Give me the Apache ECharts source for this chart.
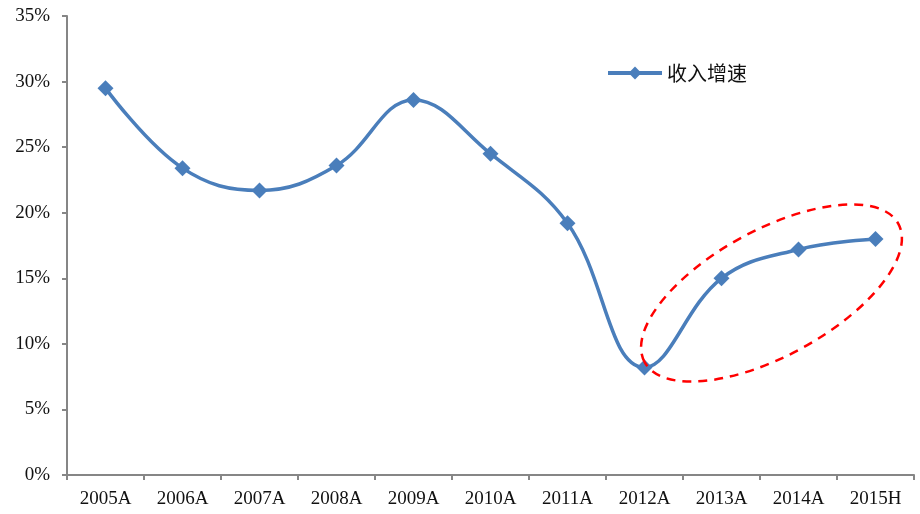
<!DOCTYPE html>
<html>
<head>
<meta charset="utf-8">
<script src="https://cdn.jsdelivr.net/npm/echarts@6/dist/echarts.min.js"></script>
<style>
  html, body { margin: 0; padding: 0; background: #fff; }
  #chart { width: 920px; height: 514px; }
</style>
</head>
<body>
<div id="chart"></div>
<script>
// Revenue growth by year
const categories = ['2005A', '2006A', '2007A', '2008A', '2009A', '2010A', '2011A', '2012A', '2013A', '2014A', '2015H'];
const growth = [29.5, 23.4, 21.7, 23.6, 28.6, 24.5, 19.2, 8.2, 15.0, 17.2, 18.0];
const seriesName = '收入增速';
const yTicks = [0, 5, 10, 15, 20, 25, 30, 35];

const chart = echarts.init(document.getElementById('chart'));
const axisGray = '#868686';
const lineBlue = '#4a7ebb';
const serif = '"Liberation Serif", "DejaVu Serif", serif';

chart.setOption({
  animation: false,
  grid: { left: 67, right: 6, top: 16, bottom: 39 },
  legend: {
    data: [seriesName],
    left: 601,
    top: 58,
    itemWidth: 54,
    itemHeight: 16,
    itemGap: 8,
    lineStyle: { width: 4 },
    textStyle: { fontFamily: '"Noto Sans CJK SC", sans-serif', fontSize: 20, color: '#111' }
  },
  xAxis: {
    type: 'category',
    data: categories,
    boundaryGap: true,
    axisLine: { lineStyle: { color: axisGray, width: 2 } },
    axisTick: { show: true, length: 5, lineStyle: { color: axisGray, width: 2 } },
    axisLabel: { fontFamily: serif, fontSize: 19, color: '#111', margin: 15 }
  },
  yAxis: {
    type: 'value',
    min: yTicks[0],
    max: yTicks[yTicks.length - 1],
    interval: 5,
    axisLine: { show: true, lineStyle: { color: axisGray, width: 2 } },
    axisTick: { show: true, length: 5, lineStyle: { color: axisGray, width: 2 } },
    splitLine: { show: false },
    axisLabel: { fontFamily: serif, fontSize: 19, color: '#111', margin: 17, formatter: v => v + '%' }
  },
  series: [{
    name: seriesName,
    type: 'line',
    data: growth,
    smooth: 0.4,
    symbol: 'diamond',
    symbolSize: 16,
    lineStyle: { color: lineBlue, width: 3.5 },
    itemStyle: { color: lineBlue }
  }]
});

// Dashed red ellipse highlighting the recent rebound (2012A–2015H)
chart.setOption({
  graphic: [{
    type: 'ellipse',
    shape: { cx: 0, cy: 0, rx: 144.5, ry: 63 },
    x: 771.5,
    y: 293,
    rotation: 28.6 * Math.PI / 180,
    silent: true,
    style: { fill: 'none', stroke: '#ff0000', lineWidth: 2.5, lineDash: [9, 7] },
    z: 10
  }]
});
</script>
</body>
</html>
